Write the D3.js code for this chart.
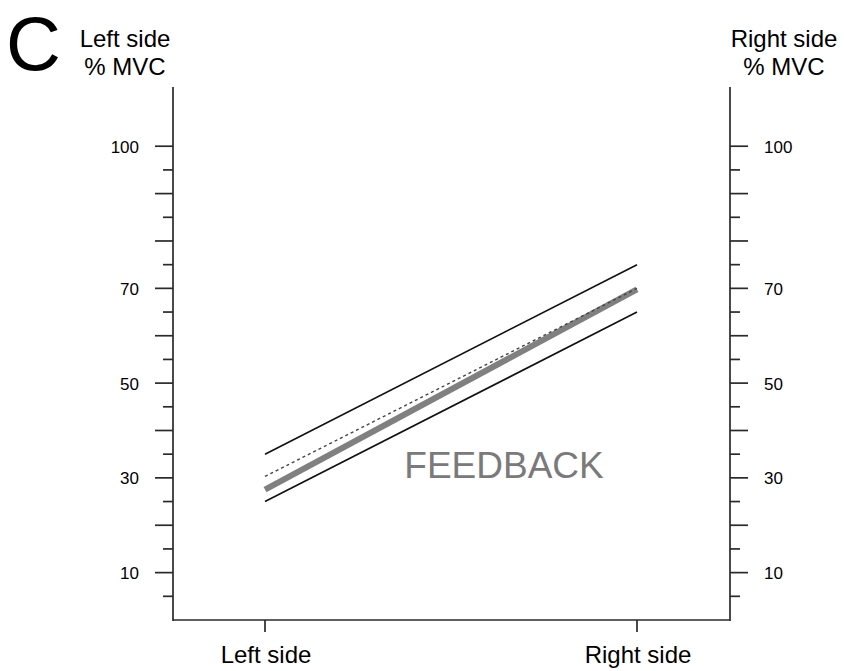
<!DOCTYPE html>
<html><head><meta charset="utf-8">
<script src="https://cdn.jsdelivr.net/npm/d3@7"></script>
<style>
html,body{margin:0;padding:0;background:#fff;}
svg{display:block;font-family:"Liberation Sans",Arial,Helvetica,sans-serif;}
</style></head>
<body>
<svg id="chart" width="844" height="671"></svg>
<script>
const categories = ["Left side", "Right side"];
const upperLine = [35, 75];
const lowerLine = [25, 65];
const dottedLine = [30.3, 70];
const feedbackLine = [27.5, 69.8];
const majorTicks = [10, 20, 30, 40, 50, 60, 70, 80, 90, 100];
const minorTicks = [5, 15, 25, 35, 45, 55, 65, 75, 85, 95];
const tickLabels = [10, 30, 50, 70, 100];
const axisTitles = [["Left side", "% MVC"], ["Right side", "% MVC"]];
const panelLabel = "C";
const annotation = "FEEDBACK";

const svg = d3.select("#chart");
const xLeftAxis = 173, xRightAxis = 730, yBottom = 620, yTop = 87;
const y = d3.scaleLinear().domain([0, 112.5]).range([yBottom, yTop]);
const x = d3.scalePoint().domain(categories).range([265, 637]).padding(0);
const axisColor = "#2a2a2a";

// Left axis
const gL = svg.append("g").attr("transform", `translate(${xLeftAxis},0)`);
gL.append("line").attr("x1",0).attr("x2",0).attr("y1",yTop).attr("y2",yBottom+1)
  .attr("stroke",axisColor).attr("stroke-width",1.7);
gL.selectAll(".maj").data(majorTicks).join("line")
  .attr("x1",-18).attr("x2",0).attr("y1",d=>y(d)).attr("y2",d=>y(d))
  .attr("stroke",axisColor).attr("stroke-width",1.7);
gL.selectAll(".min").data(minorTicks).join("line")
  .attr("x1",-10).attr("x2",0).attr("y1",d=>y(d)).attr("y2",d=>y(d))
  .attr("stroke",axisColor).attr("stroke-width",1.7);
gL.selectAll("text").data(tickLabels).join("text")
  .attr("x",-34).attr("y",d=>y(d)).attr("dy","0.38em")
  .attr("text-anchor","end").attr("font-size",17).attr("fill","#000").text(d=>d);

// Right axis
const gR = svg.append("g").attr("transform", `translate(${xRightAxis},0)`);
gR.append("line").attr("x1",0).attr("x2",0).attr("y1",yTop).attr("y2",yBottom+1)
  .attr("stroke",axisColor).attr("stroke-width",1.7);
gR.selectAll(".maj").data(majorTicks).join("line")
  .attr("x1",0).attr("x2",18).attr("y1",d=>y(d)).attr("y2",d=>y(d))
  .attr("stroke",axisColor).attr("stroke-width",1.7);
gR.selectAll(".min").data(minorTicks).join("line")
  .attr("x1",0).attr("x2",10).attr("y1",d=>y(d)).attr("y2",d=>y(d))
  .attr("stroke",axisColor).attr("stroke-width",1.7);
gR.selectAll("text").data(tickLabels).join("text")
  .attr("x",34).attr("y",d=>y(d)).attr("dy","0.38em")
  .attr("text-anchor","start").attr("font-size",17).attr("fill","#000").text(d=>d);

// Bottom axis
svg.append("line").attr("x1",xLeftAxis).attr("x2",xRightAxis).attr("y1",yBottom).attr("y2",yBottom)
  .attr("stroke",axisColor).attr("stroke-width",1.7);
svg.selectAll(".xt").data(categories).join("line")
  .attr("x1",d=>x(d)).attr("x2",d=>x(d)).attr("y1",yBottom).attr("y2",yBottom+12)
  .attr("stroke",axisColor).attr("stroke-width",1.7);
svg.selectAll(".xl").data(categories).join("text")
  .attr("x",d=>x(d)+1).attr("y",663).attr("text-anchor","middle")
  .attr("font-size",24).attr("fill","#000").text(d=>d);

// Lines
const line = d3.line().x((d,i)=>x(categories[i])).y(d=>y(d));
svg.append("path").attr("d",line(feedbackLine)).attr("fill","none")
  .attr("stroke","#808080").attr("stroke-width",6);
svg.append("path").attr("d",line(dottedLine)).attr("fill","none")
  .attr("stroke","#444").attr("stroke-width",1.4).attr("stroke-dasharray","3,3");
svg.append("path").attr("d",line(upperLine)).attr("fill","none")
  .attr("stroke","#111").attr("stroke-width",1.6);
svg.append("path").attr("d",line(lowerLine)).attr("fill","none")
  .attr("stroke","#111").attr("stroke-width",1.6);

// Annotation
svg.append("text").attr("x",504).attr("y",478).attr("text-anchor","middle")
  .attr("font-size",37).attr("fill","#7a7a7a").text(annotation);

// Axis titles
const titleX = [125, 784];
axisTitles.forEach((t,i)=>{
  t.forEach((s,j)=>{
    svg.append("text").attr("x",titleX[i]).attr("y",47 + j*28)
      .attr("text-anchor","middle").attr("font-size",24).attr("fill","#000").text(s);
  });
});

// Panel label
svg.append("text").attr("x",6).attr("y",70).attr("font-size",76).attr("fill","#000").text(panelLabel);
</script>
</body></html>
